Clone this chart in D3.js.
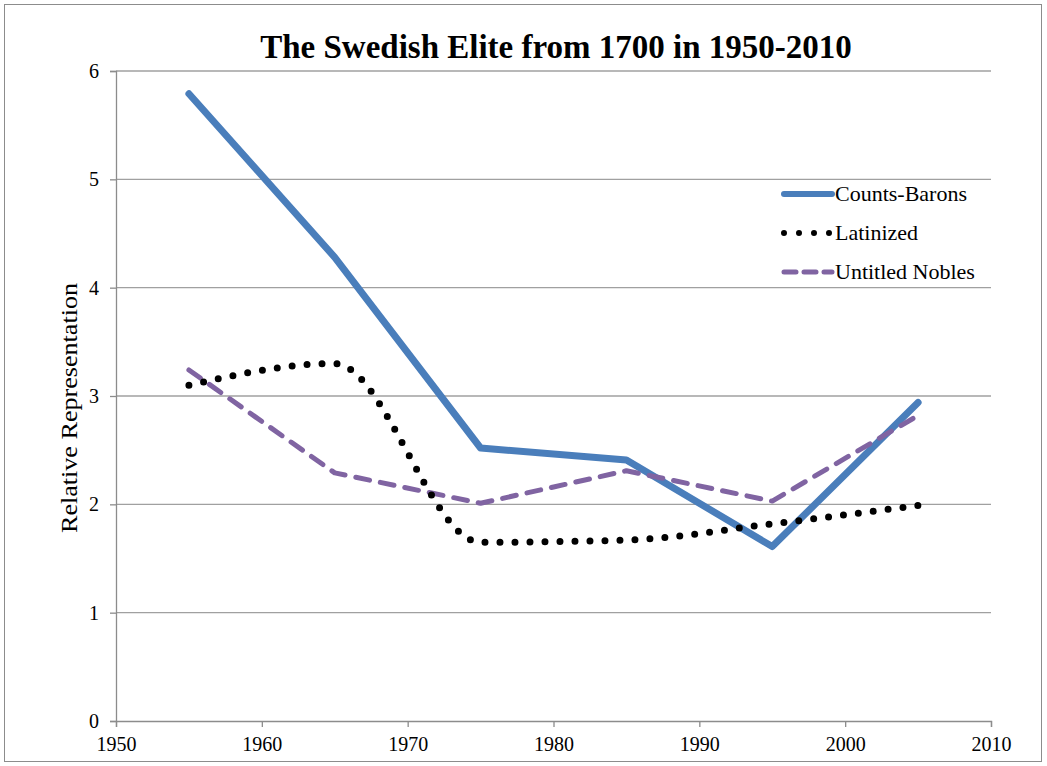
<!DOCTYPE html>
<html><head><meta charset="utf-8">
<script src="https://cdn.jsdelivr.net/npm/d3@7"></script>
<style>body{margin:0;background:#fff}svg{display:block}</style>
</head><body>
<svg id="c" width="1047" height="766"></svg>
<script>
const years = [1955, 1965, 1975, 1985, 1995, 2005];
const countsBarons = [5.79, 4.28, 2.52, 2.41, 1.61, 2.94];
const latinized = [3.10, 3.30, 1.65, 1.67, 1.82, 1.99];
const untitledNobles = [3.24, 2.29, 2.01, 2.31, 2.03, 2.82];
const xTicks = [1950, 1960, 1970, 1980, 1990, 2000, 2010];
const yTicks = [0, 1, 2, 3, 4, 5, 6];
const seriesNames = ["Counts-Barons", "Latinized", "Untitled Nobles"];

const font = "'Liberation Serif', 'DejaVu Serif', serif";
const svg = d3.select("#c");
const L = 116, R = 991, T = 71, B = 721;
const x = d3.scaleLinear().domain([1950, 2010]).range([L, R]);
const y = d3.scaleLinear().domain([0, 6]).range([B, T]);

svg.append("rect").attr("x", 4.5).attr("y", 4.5).attr("width", 1037).attr("height", 757)
  .attr("fill", "#fff").attr("stroke", "#8c8c8c").attr("stroke-width", 1);

// gridlines
svg.append("g").selectAll("line").data(yTicks.filter(d => d > 0)).join("line")
  .attr("x1", L).attr("x2", R).attr("y1", d => y(d)).attr("y2", d => y(d))
  .attr("stroke", "#a0a0a0").attr("stroke-width", 1.3);

// axes
const yAxis = svg.append("g").attr("transform", `translate(${L},0)`)
  .call(d3.axisLeft(y).tickValues(yTicks).tickFormat(d3.format("d")).tickSize(6).tickPadding(11));
const xAxis = svg.append("g").attr("transform", `translate(0,${B})`)
  .call(d3.axisBottom(x).tickValues(xTicks).tickFormat(d3.format("d")).tickSize(6).tickPadding(10));
[yAxis, xAxis].forEach(a => {
  a.attr("font-family", font).attr("font-size", 20);
  a.select(".domain").attr("stroke", "#8c8c8c").attr("stroke-width", 1.3);
  a.selectAll(".tick line").attr("stroke", "#8c8c8c").attr("stroke-width", 1.3);
  a.selectAll("text").attr("font-family", font).attr("font-size", 20).attr("fill", "#000");
});

const styles = [
  {color: "#4a7ebb", width: 7, dash: null, curve: d3.curveLinear, data: countsBarons},
  {color: "#000000", width: 7, dash: "0 15", curve: d3.curveMonotoneX, data: latinized},
  {color: "#8064a2", width: 5, dash: "14 11", curve: d3.curveLinear, data: untitledNobles}
];

const line = (curve) => d3.line().x((d, i) => x(years[i])).y(d => y(d)).curve(curve);
[0, 2, 1].forEach(k => {
  const s = styles[k];
  svg.append("path").datum(s.data).attr("d", line(s.curve))
    .attr("fill", "none").attr("stroke", s.color).attr("stroke-width", s.width)
    .attr("stroke-linecap", "round").attr("stroke-linejoin", "round")
    .attr("stroke-dasharray", s.dash);
});

// legend
const lg = svg.append("g");
const legDash = [null, "0 15", "12 8"];
const legW = [6, 6, 5];
seriesNames.forEach((n, i) => {
  const s = styles[i];
  const ly = 194 + i * 39;
  lg.append("line").attr("x1", 784).attr("x2", 832).attr("y1", ly).attr("y2", ly)
    .attr("stroke", s.color).attr("stroke-width", legW[i])
    .attr("stroke-linecap", "round").attr("stroke-dasharray", legDash[i]);
  lg.append("text").attr("x", 835).attr("y", ly + 7).text(n)
    .attr("font-family", font).attr("font-size", 22).attr("fill", "#000");
});

// title
svg.append("text").attr("x", 556).attr("y", 58).attr("text-anchor", "middle")
  .attr("font-family", font).attr("font-weight", "bold").attr("font-size", 33)
  .text("The Swedish Elite from 1700 in 1950-2010");

// y label
svg.append("text").attr("transform", `translate(77,408) rotate(-90)`).attr("text-anchor", "middle")
  .attr("font-family", font).attr("font-size", 23)
  .attr("textLength", 250).attr("lengthAdjust", "spacingAndGlyphs")
  .text("Relative Representation");
</script>
</body></html>
